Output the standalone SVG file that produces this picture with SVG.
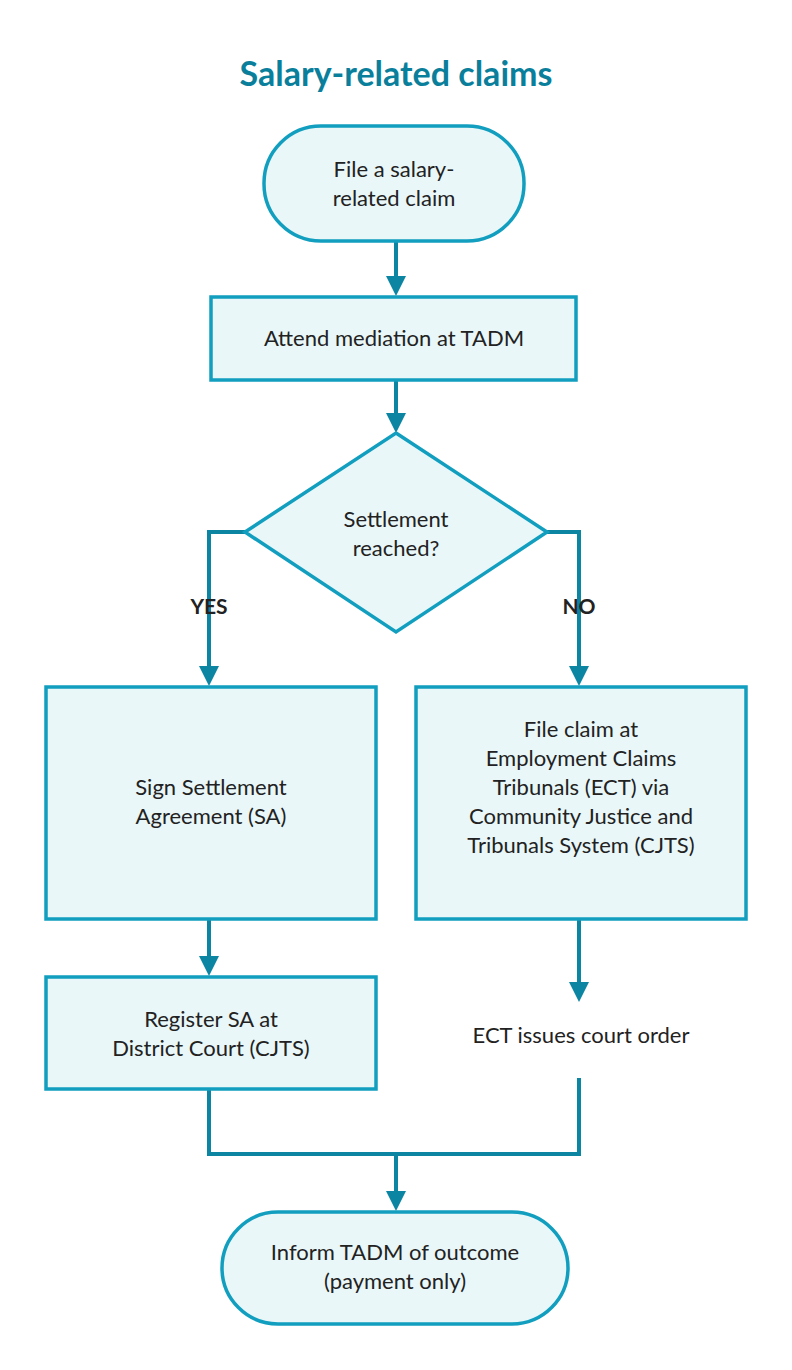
<svg xmlns="http://www.w3.org/2000/svg" width="792" height="1370" viewBox="0 0 792 1370">
<style>
.n{fill:#e9f7f9;stroke:#129fbf;stroke-width:3.5}
.t{font-family:Lato,"Liberation Sans",sans-serif;font-size:22px;fill:#222;text-anchor:middle}
.b{font-weight:bold;font-size:21px}
.c{fill:none;stroke:#0b85a2;stroke-width:4}
</style>
<defs><marker id="a" markerWidth="6" markerHeight="5" refX="0" refY="2.5" orient="auto" markerUnits="strokeWidth"><path d="M0,0L5,2.5L0,5z" fill="#0b85a2"/></marker></defs>
<rect width="792" height="1370" fill="#fff"/>
<text x="396" y="86" class="t" style="font-size:34px;font-weight:bold;fill:#0a7f9c">Salary-related claims</text>
<g id="connectors">
<path class="c" d="M396,241V276" marker-end="url(#a)"/>
<path class="c" d="M396,380V413" marker-end="url(#a)"/>
<path class="c" d="M245,532H209V666" marker-end="url(#a)"/>
<path class="c" d="M547,532H579V666" marker-end="url(#a)"/>
<path class="c" d="M209,919V956" marker-end="url(#a)"/>
<path class="c" d="M579,919V982" marker-end="url(#a)"/>
<path class="c" d="M209,1089V1154H579V1078"/>
<path class="c" d="M396,1154V1191" marker-end="url(#a)"/>
<text x="209" y="614" class="t b">YES</text>
<text x="579" y="614" class="t b">NO</text>
</g>
<g id="start"><rect class="n" x="264" y="126" width="260" height="115" rx="57"/><text class="t" x="394" y="177">File a salary-</text><text class="t" x="394" y="206">related claim</text></g>
<g id="mediation"><rect class="n" x="211" y="297" width="365" height="83"/><text class="t" x="394" y="346">Attend mediation at TADM</text></g>
<g id="decision"><path class="n" d="M396,433L547,532L396,632L245,532z"/><text class="t" x="396" y="527">Settlement</text><text class="t" x="396" y="556">reached?</text></g>
<g id="sign"><rect class="n" x="46" y="687" width="330" height="232"/><text class="t" x="211" y="795">Sign Settlement</text><text class="t" x="211" y="824">Agreement (SA)</text></g>
<g id="ect"><rect class="n" x="416" y="687" width="330" height="232"/><text class="t" x="581" y="737">File claim at</text><text class="t" x="581" y="766">Employment Claims</text><text class="t" x="581" y="795">Tribunals (ECT) via</text><text class="t" x="581" y="824">Community Justice and</text><text class="t" x="581" y="853">Tribunals System (CJTS)</text></g>
<g id="register"><rect class="n" x="46" y="977" width="330" height="112"/><text class="t" x="211" y="1027">Register SA at</text><text class="t" x="211" y="1056">District Court (CJTS)</text></g>
<g id="order"><text class="t" x="581" y="1043">ECT issues court order</text></g>
<g id="end"><rect class="n" x="222" y="1212" width="346" height="112" rx="56"/><text class="t" x="395" y="1260">Inform TADM of outcome</text><text class="t" x="395" y="1289">(payment only)</text></g>
</svg>
